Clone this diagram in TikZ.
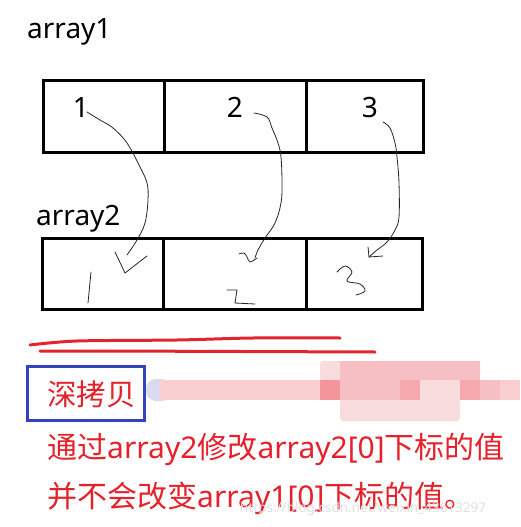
\documentclass[tikz,border=0pt]{standalone}
\usepackage{fontspec}
\setmainfont{Noto Sans CJK SC}
\newfontfamily\latinfont{Noto Sans}
\usetikzlibrary{positioning}
\definecolor{inkred}{HTML}{E5212B}
\definecolor{penred}{HTML}{E0252F}
\definecolor{boxblue}{HTML}{3442BE}
\definecolor{lavender}{HTML}{DCDAEE}
\definecolor{pinkbar}{HTML}{F9CFD2}
\definecolor{pinkpale}{HTML}{F9DCDE}
\definecolor{pinkmid}{HTML}{F6BFC3}
\definecolor{pinkdark}{HTML}{F3959B}
\definecolor{pinkdeep}{HTML}{F4AAAE}
\newcommand{\lat}[1]{{\latinfont #1}}

\begin{document}
\begin{tikzpicture}[
  x=1pt, y=-1pt,
  cell/.style={draw=black, line width=3pt, outer sep=0pt, inner sep=0pt,
               anchor=north west},
  label/.style={font=\latinfont\fontsize{28}{30}\selectfont, inner sep=0pt,
                anchor=base west},
  num/.style={font=\latinfont\fontsize{28}{30}\selectfont, inner sep=0pt,
              anchor=base},
  hand/.style={draw=black!85, line width=0.8pt, line cap=round, line join=round},
  redpen/.style={draw=penred, line width=3pt, line cap=round},
  note/.style={font=\fontsize{30}{32}\selectfont, text=inkred, inner sep=0pt,
               anchor=base west},
  tagbox/.style={draw=boxblue, line width=3pt, outer sep=0pt, inner sep=0pt,
                 anchor=north west, minimum width=117, minimum height=54},
  wmark/.style={font=\latinfont\fontsize{13.5}{15}\selectfont, text=black!12,
                inner sep=0pt, anchor=base west}
]
\useasboundingbox (0,0) rectangle (520,527);
\fill[white] (0,0) rectangle (520,527);

% ==== array1
\node[label] (lab1) at (27,39) {array1};
\foreach \x/\w/\i in {43/121/1, 164/142/2, 306/117/3} {
  \node[cell, minimum width=\w, minimum height=72] (a\i) at (\x,80) {};
}
\node[num] (v1) at (81,117) {1};
\node[num] (v2) at (235,117) {2};
\node[num] (v3) at (370,117) {3};

% ==== array2
\node[label] (lab2) at (36,225) {array2};
\foreach \x/\w/\i in {42/121/1, 163/143/2, 306/116/3} {
  \node[cell, minimum width=\w, minimum height=71] (b\i) at (\x,238) {};
}

% ==== hand-drawn copies
\coordinate (s1) at (87,112);  \coordinate (e1) at (127,255);
\coordinate (s2) at (254,113); \coordinate (e2) at (255,258);
\coordinate (s3) at (383,122); \coordinate (e3) at (369,257);

\draw[hand] plot[smooth, tension=0.6] coordinates {(s1) (100,120) (113,128)
  (127,143) (140,167) (147,183) (148,200) (145,223) (137,240) (e1)};
\draw[hand] (115,252) -- (125,273) -- (147,256);
\draw[hand] (91,272) -- (88,303);

\draw[hand] plot[smooth, tension=0.6] coordinates {(s2) (267,117) (272,128)
  (278,143) (281,157) (282,183) (281,203) (275,223) (265,238) (258,250) (e2)};
\draw[hand] plot[smooth, tension=0.6] coordinates {(239,254) (244,253)
  (247,257) (250,262) (257,258)};
\draw[hand] (227,290) -- (237,290) -- (235,303) -- (255,304);

\draw[hand] plot[smooth, tension=0.6] coordinates {(s3) (390,128) (395,143)
  (397,157) (399,183) (399,217) (395,230) (387,242) (377,250) (e3)};
\draw[hand] (368,247) -- (e3) -- (383,256);
\draw[hand] plot[smooth, tension=0.6] coordinates {(337,272) (345,266)
  (352,272) (347,281) (360,284) (365,291) (356,295)};

% ==== red underline
\draw[redpen] plot[smooth] coordinates {(30,345) (77,341) (177,340) (253,338) (340,338)};
\draw[redpen] (40,351) -- (110,351) -- (375,352);

% ==== masked area
\fill[lavender, rounded corners=10pt] (146,379) rectangle (172,401);
\fill[pinkbar] (160,380) rectangle (520,400);
\fill[pinkpale, rounded corners=3pt] (320,361) rectangle (480,381);
\fill[pinkmid] (340,361) rectangle (480,380);
\fill[pinkpale, rounded corners=3pt] (340,399) rectangle (460,421);
\fill[pinkdark] (320,380) rectangle (340,400);
\fill[pinkmid] (340,380) rectangle (400,400);
\fill[pinkdeep] (400,380) rectangle (420,400);
\fill[pinkpale] (420,380) rectangle (460,400);
\fill[pinkdeep] (460,380) rectangle (480,400);
\fill[pinkmid] (480,380) rectangle (500,400);

% ==== note
\node[tagbox] (tag) at (27,366) {};
\node[note, font=\fontsize{29.5}{31}\selectfont] (deep) at (47,405) {深拷贝};
\node[note] (note1) at (47,458) {通过\lat{array2}修改\lat{array2[0]}下标的值};
\node[note] (note2) at (47,507) {并不会改变\lat{array1[0]}下标的值。};
\node[wmark] (wm) at (240,512) {https://blog.csdn.net/weixin\_43613297};

\end{tikzpicture}
\end{document}
